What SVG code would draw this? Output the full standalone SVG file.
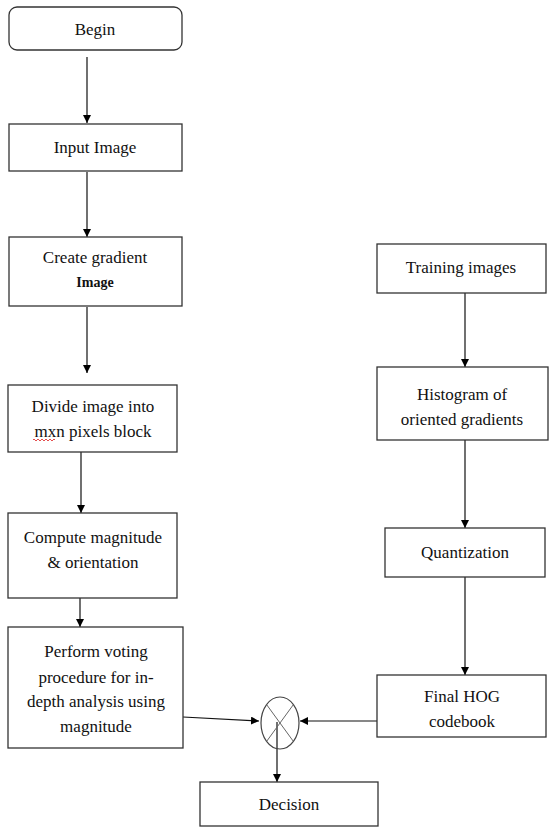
<svg xmlns="http://www.w3.org/2000/svg" width="549" height="827" viewBox="0 0 549 827">
<defs>
<style>
.box{fill:#fff;stroke:#333;stroke-width:1.3}
.c{stroke:#111;stroke-width:1.2;fill:none}
</style>
<marker id="ah" markerWidth="10" markerHeight="10" refX="8" refY="4" orient="auto" markerUnits="userSpaceOnUse">
<path d="M0,0 L8,4 L0,8 Z" fill="#000"/>
</marker>
</defs>
<rect width="549" height="827" fill="#fff"/>
<g id="connectors">
<line class="c" x1="87" y1="57" x2="87" y2="123" marker-end="url(#ah)"/>
<line class="c" x1="87" y1="172" x2="87" y2="237" marker-end="url(#ah)"/>
<line class="c" x1="87" y1="307" x2="87" y2="373" marker-end="url(#ah)"/>
<line class="c" x1="81" y1="448" x2="81" y2="513" marker-end="url(#ah)"/>
<line class="c" x1="80" y1="565" x2="80" y2="627" marker-end="url(#ah)"/>
<line class="c" x1="465" y1="293" x2="465" y2="367" marker-end="url(#ah)"/>
<line class="c" x1="465" y1="440" x2="465" y2="528" marker-end="url(#ah)"/>
<line class="c" x1="465" y1="546" x2="465" y2="675" marker-end="url(#ah)"/>
<line class="c" x1="183" y1="717" x2="259" y2="721" marker-end="url(#ah)"/>
<line class="c" x1="378" y1="721" x2="300" y2="721" marker-end="url(#ah)"/>
<line class="c" x1="277" y1="722" x2="277" y2="782" marker-end="url(#ah)"/>
</g>
<g font-family="Liberation Serif, serif" font-size="17" fill="#111" text-anchor="middle">
<g id="begin"><rect class="box" x="9" y="7" width="173" height="43" rx="8"/><text x="95" y="35">Begin</text></g>
<g id="input"><rect class="box" x="9" y="124" width="173" height="47"/><text x="95" y="153">Input Image</text></g>
<g id="gradient"><rect class="box" x="9" y="237" width="173" height="69"/><text x="95" y="263">Create gradient</text><text x="95" y="287" font-weight="bold" font-size="14">Image</text></g>
<g id="divide"><rect class="box" x="8" y="385" width="169" height="67"/><text x="93" y="412">Divide image into</text><text x="93" y="437">mxn pixels block</text><path d="M33,440 q1,-2 2,0 t2,0 t2,0 t2,0 t2,0 t2,0 t2,0 t2,0 t2,0 t2,0 t2,0" stroke="#d22" stroke-width="0.8" fill="none"/></g>
<g id="compute"><rect class="box" x="8" y="513" width="169" height="85"/><text x="93" y="543">Compute magnitude</text><text x="93" y="568">&amp; orientation</text></g>
<g id="voting"><rect class="box" x="8" y="627" width="175" height="121"/><text x="96" y="657">Perform voting</text><text x="96" y="683">procedure for in-</text><text x="96" y="707">depth analysis using</text><text x="96" y="732">magnitude</text></g>
<g id="training"><rect class="box" x="377" y="244" width="169" height="49"/><text x="461" y="273">Training images</text></g>
<g id="histogram"><rect class="box" x="377" y="367" width="171" height="73"/><text x="462" y="400">Histogram of</text><text x="462" y="425">oriented gradients</text></g>
<g id="quant"><rect class="box" x="385" y="528" width="160" height="49"/><text x="465" y="558">Quantization</text></g>
<g id="codebook"><rect class="box" x="377" y="675" width="169" height="62"/><text x="462" y="702">Final HOG</text><text x="462" y="727">codebook</text></g>
<g id="decision"><rect class="box" x="200" y="782" width="178" height="44"/><text x="289" y="810">Decision</text></g>
</g>
<g id="combiner"><ellipse cx="280" cy="723" rx="19" ry="26" fill="none" stroke="#444" stroke-width="1.2"/><line x1="266.6" y1="704.6" x2="293.4" y2="741.4" stroke="#666" stroke-width="1"/><line x1="293.4" y1="704.6" x2="266.6" y2="741.4" stroke="#666" stroke-width="1"/></g>
</svg>
